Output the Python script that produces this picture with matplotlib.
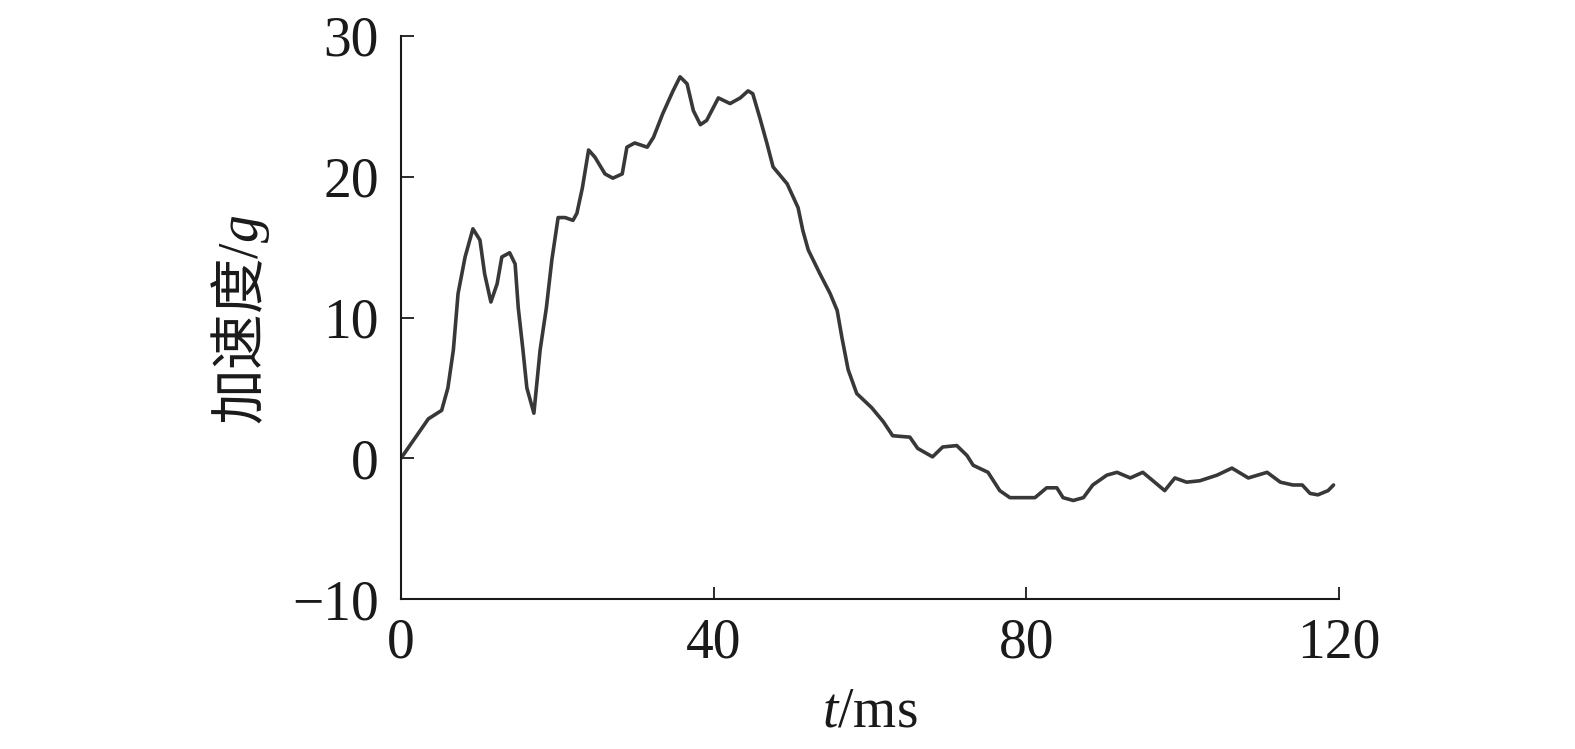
import matplotlib
matplotlib.use("Agg")
import matplotlib.pyplot as plt

plt.rcParams['mathtext.fontset'] = 'custom'
plt.rcParams['mathtext.rm'] = 'Liberation Serif'
plt.rcParams['mathtext.it'] = 'Liberation Serif:italic'
plt.rcParams['font.family'] = ['Liberation Serif', 'Noto Sans CJK SC']

t_ms = [0, 1.5, 3.5, 5.2, 6.0, 6.7, 7.3, 8.2, 9.2, 10.1,
        10.7, 11.5, 12.3, 12.9, 13.9, 14.6, 15.0, 15.6, 16.1, 17.0,
        17.8, 18.6, 19.3, 20.1, 21.0, 22.0, 22.5, 23.2, 24.0, 24.8,
        26.1, 27.1, 28.3, 28.9, 29.9, 31.5, 32.3, 33.5, 34.8, 35.7,
        36.6, 37.4, 38.3, 39.1, 40.6, 42.1, 43.4, 44.4, 45.0, 45.9,
        46.8, 47.6, 49.4, 50.8, 51.4, 52.1, 53.6, 54.9, 55.8, 56.4,
        57.2, 58.3, 60.2, 61.7, 62.9, 65.1, 66.1, 68.0, 69.3, 71.1,
        72.4, 73.2, 75.1, 76.6, 77.9, 79.6, 81.1, 82.6, 83.9, 84.7,
        86.0, 87.3, 88.5, 90.3, 91.6, 93.3, 94.9, 96.2, 97.7, 99.0,
        100.5, 102.2, 104.4, 106.3, 108.4, 110.8, 112.5, 114.1, 115.3, 116.3,
        117.3, 118.6, 119.3]
accel_g = [0, 1.2, 2.8, 3.4, 5.0, 7.7, 11.7, 14.3, 16.3, 15.5,
           13.1, 11.1, 12.4, 14.3, 14.6, 13.8, 10.7, 7.7, 5.0, 3.2,
           7.7, 10.7, 14.1, 17.1, 17.1, 16.9, 17.4, 19.2, 21.9, 21.4,
           20.2, 19.9, 20.2, 22.1, 22.4, 22.1, 22.8, 24.5, 26.1, 27.1,
           26.6, 24.7, 23.7, 24.0, 25.6, 25.2, 25.6, 26.1, 25.9, 24.2,
           22.4, 20.7, 19.5, 17.8, 16.2, 14.8, 13.1, 11.7, 10.5, 8.6,
           6.3, 4.6, 3.6, 2.6, 1.6, 1.5, 0.7, 0.1, 0.8, 0.9,
           0.2, -0.5, -1.0, -2.3, -2.8, -2.8, -2.8, -2.1, -2.1, -2.8,
           -3.0, -2.8, -1.9, -1.2, -1.0, -1.4, -1.0, -1.6, -2.3, -1.4,
           -1.7, -1.6, -1.2, -0.7, -1.4, -1.0, -1.7, -1.9, -1.9, -2.5,
           -2.6, -2.3, -1.9]

x_ticks = [0, 40, 80, 120]
y_ticks = [-10, 0, 10, 20, 30]

fig = plt.figure(figsize=(15.75, 7.49), dpi=100)
ax = fig.add_axes([401/1575, 1 - 599/749, (1339-401)/1575, (599-36)/749])

ax.plot(t_ms, accel_g, color='#383838', lw=2.6, solid_joinstyle='round',
        solid_capstyle='round')

ax.set_xlim(0, 120)
ax.set_ylim(-10, 30)
ax.set_xticks(x_ticks)
ax.set_yticks(y_ticks)

for s in ['top', 'right']:
    ax.spines[s].set_visible(False)
for s in ['left', 'bottom']:
    ax.spines[s].set_linewidth(1.5)
    ax.spines[s].set_color('#1a1a1a')

ax.tick_params(axis='both', direction='in', length=9, width=1.3,
               labelsize=40, colors='#1a1a1a')
ax.tick_params(axis='y', pad=16)
ax.tick_params(axis='x', pad=13)

ax.set_xlabel('$t$/ms', fontsize=40, color='#1a1a1a')
ax.set_ylabel('加速度$/g$', fontsize=40, color='#1a1a1a', family='Noto Sans CJK SC')
ax.xaxis.set_label_coords(0.5, -0.155)
ax.yaxis.set_label_coords(-0.137, 0.495)

fig.savefig('out.png', dpi=100, facecolor='white')
